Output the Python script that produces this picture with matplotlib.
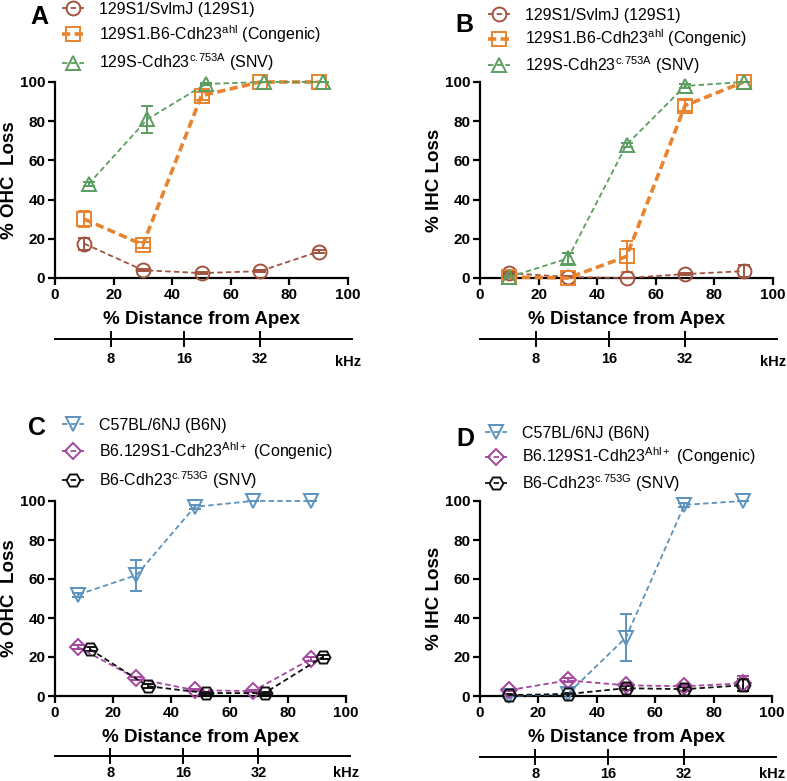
import matplotlib
matplotlib.use("Agg")
import matplotlib.pyplot as plt
from matplotlib.lines import Line2D

plt.rcParams['font.family'] = ['Liberation Sans', 'DejaVu Sans']
plt.rcParams['mathtext.fontset'] = 'custom'
plt.rcParams['mathtext.rm'] = 'Liberation Sans'
plt.rcParams['mathtext.it'] = 'Liberation Sans'
plt.rcParams['mathtext.default'] = 'regular'

# kHz scale under every panel
khz_pos = [19, 44, 70]
khz_labels = ['8', '16', '32']

# ---- panels A / B : 129S1 background ----
ab_names = ['129S1/SvlmJ (129S1)',
            '129S1.B6-Cdh23$^{ahl}$ (Congenic)',
            r'129S-Cdh23$^{c.\!753A}$ (SNV)']
ab_colors = ['#A2533F', '#E8832F', '#5C9D60']
ab_markers = ['o', 's', '^']

a_x = [[10, 30, 50, 70, 90], [10, 30, 50, 70, 90], [11.5, 31.5, 51.5, 71.5, 91.5]]
a_y = [[17.5, 4, 2.5, 3.5, 13.5], [30, 17, 93, 100, 100], [48, 81, 99, 100, 100]]
a_err = [[3, 0.5, 0.5, 0.5, 1], [4, 1.5, 2, 0, 0], [1, 7, 0.5, 0, 0]]

b_x = [[10, 30, 50, 70, 90], [10, 30, 50, 70, 90], [10, 30, 50, 70, 90]]
b_y = [[2.5, 0.5, 0, 2, 3.5], [0.5, 0, 11, 88, 100], [0.5, 10, 68, 98, 100]]
b_err = [[0.5, 0.5, 0, 0.5, 3], [0.5, 0, 8, 3, 0], [0.5, 3, 1, 1, 0]]

# ---- panels C / D : B6 background ----
cd_names = ['C57BL/6NJ (B6N)',
            'B6.129S1-Cdh23$^{Ahl+}$ (Congenic)',
            r'B6-Cdh23$^{c.\!753G}$ (SNV)']
cd_colors = ['#5B93BE', '#A3479D', '#111111']
cd_markers = ['v', 'D', 'H']

c_x = [[8, 28, 48, 68, 88], [8, 28, 48, 68, 88], [12, 32, 52, 72, 92]]
c_y = [[52, 62, 97, 100, 100], [25, 9, 3, 2.5, 19], [24, 5, 1.5, 1.5, 20]]
c_err = [[1, 8, 1, 0, 0], [1, 1, 0.5, 0.5, 1], [1, 1, 0.5, 0.5, 1]]

d_x = [[10, 30, 50, 70, 90], [10, 30, 50, 70, 90], [10, 30, 50, 70, 90]]
d_y = [[0, 1, 30, 98, 100], [3, 8, 5.5, 5, 6.5], [0.5, 1, 4, 3.5, 5.5]]
d_err = [[0, 0.5, 12, 1, 0], [0.5, 1, 0.5, 0.5, 4], [0.5, 0.5, 1, 1, 3]]

W, H = 787, 781
fig = plt.figure(figsize=(W / 100, H / 100), dpi=100)


def px_axes(left, top, width, height):
    return fig.add_axes([left / W, 1 - (top + height) / H, width / W, height / H])


def marker_size(m):
    return 8.5 if m == 'D' else 10


def draw_panel(ax, xs, ys, errs, colors, markers, ylabel, thick_idx=None):
    handles = []
    for i in range(3):
        lw = 2.6 if i == thick_idx else 1.3
        dash = (2.3, 1.2) if i == thick_idx else (3, 1.8)
        ax.errorbar(xs[i], ys[i], yerr=errs[i], color=colors[i], ecolor=colors[i],
                    elinewidth=1.4, capsize=4, capthick=1.4, lw=lw, ls='--',
                    dashes=dash, marker=markers[i], ms=marker_size(markers[i]),
                    mfc='none', mec=colors[i], mew=1.4, clip_on=False, zorder=3)
        handles.append(Line2D([], [], color=colors[i], lw=lw, ls='--', dashes=dash,
                              marker=markers[i], ms=marker_size(markers[i]),
                              mfc='none', mec=colors[i], mew=1.4))
    ax.set_xlim(0, 100)
    ax.set_ylim(0, 100)
    ax.set_xticks(range(0, 101, 20))
    ax.set_yticks(range(0, 101, 20))
    for s in ['top', 'right']:
        ax.spines[s].set_visible(False)
    for s in ['left', 'bottom']:
        ax.spines[s].set_linewidth(1.6)
    ax.tick_params(direction='out', length=5, width=1.6, labelsize=11, pad=2)
    for lab in ax.get_xticklabels() + ax.get_yticklabels():
        lab.set_fontweight('bold')
    ax.set_xlabel('% Distance from Apex', fontsize=13.5, fontweight='bold', labelpad=7)
    ax.set_ylabel(ylabel, fontsize=13.5, fontweight='bold', labelpad=1)
    return handles


def draw_khz(left, y, width, pad, khz_off):
    kx = px_axes(left, y, width, 0.01)
    kx.set_xlim(0, 101.5)
    kx.set_ylim(0, 1)
    kx.set_yticks([])
    for s in ['top', 'right', 'left']:
        kx.spines[s].set_visible(False)
    kx.spines['bottom'].set_linewidth(1.4)
    kx.set_xticks(khz_pos)
    kx.set_xticklabels(khz_labels)
    kx.tick_params(axis='x', direction='inout', length=11, width=1.4, labelsize=10.5, pad=pad)
    for lab in kx.get_xticklabels():
        lab.set_fontweight('bold')
    kx.annotate('kHz', xy=(100, 0), xycoords=('data', 'axes fraction'),
                xytext=(0, khz_off), textcoords='offset points', ha='center', va='top',
                fontsize=10.5, fontweight='bold')
    kx.patch.set_visible(False)


panels = [
    (55, 82, 293, 196, a_x, a_y, a_err, ab_names, ab_colors, ab_markers, '% OHC  Loss', 1, 'A', 339),
    (480, 82, 293, 196, b_x, b_y, b_err, ab_names, ab_colors, ab_markers, '% IHC Loss', 1, 'B', 339),
    (55, 501, 291, 195, c_x, c_y, c_err, cd_names, cd_colors, cd_markers, '% OHC  Loss', None, 'C', 756),
    (480, 501, 292, 195, d_x, d_y, d_err, cd_names, cd_colors, cd_markers, '% IHC Loss', None, 'D', 757),
]

letter_pos = {'A': (30, 17), 'B': (455, 25), 'C': (28, 428), 'D': (456, 439)}
legend_top = {'A': 2, 'B': 8, 'C': 418, 'D': 426}
legend_left = {'A': 62, 'B': 488, 'C': 62, 'D': 485}
legend_gap = {'A': 0.4, 'B': 0.3, 'C': 0.45, 'D': 0.3}
khz_pad = {'A': (4, -11.5), 'B': (4, -11.5), 'C': (1.5, -7), 'D': (1.5, -7)}

for (l, t, w, h, xs, ys, errs, names, colors, markers, ylab, thick, letter, ky) in panels:
    ax = px_axes(l, t, w, h)
    handles = draw_panel(ax, xs, ys, errs, colors, markers, ylab, thick)
    lx, ly = legend_left[letter], legend_top[letter]
    ax.legend(handles, names, loc='upper left',
              bbox_to_anchor=((lx - l) / w, 1 + (t - ly) / h),
              frameon=False, fontsize=11.5, handlelength=1.4, handletextpad=0.9,
              labelspacing=legend_gap[letter], borderpad=0, borderaxespad=0)
    draw_khz(l, ky, w + 4, *khz_pad[letter])
    fig.text(letter_pos[letter][0] / W, 1 - letter_pos[letter][1] / H, letter,
             fontsize=18, fontweight='bold', ha='left', va='center')

fig.savefig('out.png', dpi=100)
